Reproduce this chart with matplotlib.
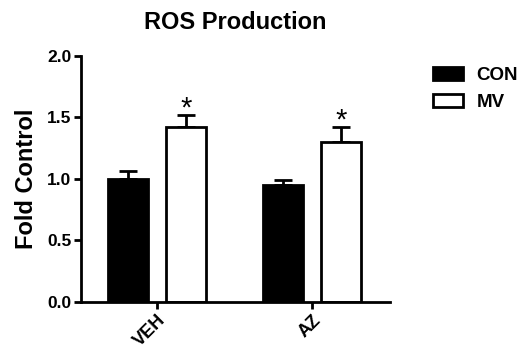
import matplotlib
matplotlib.use("Agg")
import matplotlib.pyplot as plt
from matplotlib.patches import Patch
import numpy as np

plt.rcParams['font.family'] = ['Liberation Sans', 'DejaVu Sans']
plt.rcParams['font.weight'] = 'bold'

groups = ["VEH", "AZ"]
series = ["CON", "MV"]
con_vals = [1.00, 0.95]
con_err = [0.06, 0.04]
mv_vals = [1.42, 1.30]
mv_err = [0.10, 0.12]
sig = ["*", "*"]

fig = plt.figure(figsize=(5.22, 3.52), dpi=100)
ax = fig.add_axes([0.155, 0.142, 0.592, 0.700])

x = np.arange(len(groups))
w = 0.26
off = 0.187
lw = 2.0

ax.bar(x - off, con_vals, w, color='black', edgecolor='black', linewidth=lw, zorder=2)
ax.bar(x + off, mv_vals, w, color='white', edgecolor='black', linewidth=lw, zorder=2)
ax.errorbar(x - off, con_vals, yerr=[np.zeros(len(x)), con_err], fmt='none',
            ecolor='black', elinewidth=lw, capsize=6.5, capthick=lw, zorder=1)
ax.errorbar(x + off, mv_vals, yerr=[np.zeros(len(x)), mv_err], fmt='none',
            ecolor='black', elinewidth=lw, capsize=6.5, capthick=lw, zorder=1)
for xi, v, e, s in zip(x + off, mv_vals, mv_err, sig):
    ax.text(xi, v + e - 0.06, s, ha='center', va='bottom', fontsize=21, fontweight='normal')

ax.set_xlim(-0.49, 1.503)
ax.set_ylim(0, 2.0)
ax.set_yticks([0, 0.5, 1.0, 1.5, 2.0])
ax.set_yticklabels(["0.0", "0.5", "1.0", "1.5", "2.0"], fontsize=12.5, fontweight='bold')
ax.set_xticks(x)
ax.set_xticklabels(groups, rotation=45, ha='right', rotation_mode='anchor', fontsize=13, fontweight='bold')
ax.set_ylabel("Fold Control", fontsize=17, fontweight='bold', labelpad=6)
ax.set_title("ROS Production", fontsize=17, fontweight='bold', pad=19)

for sp in ['top', 'right']:
    ax.spines[sp].set_visible(False)
for sp in ['left', 'bottom']:
    ax.spines[sp].set_linewidth(lw)
ax.tick_params(axis='both', width=lw, length=5, direction='out', pad=2)

handles = [Patch(facecolor='black', edgecolor='black', linewidth=lw, label='CON'),
           Patch(facecolor='white', edgecolor='black', linewidth=lw, label='MV')]
leg = fig.legend(handles=handles, loc='upper left', bbox_to_anchor=(0.8295, 0.810),
                 frameon=False, prop={'size': 13.5, 'weight': 'bold'},
                 borderpad=0, borderaxespad=0,
                 handlelength=1.6, handleheight=0.7, labelspacing=0.55, handletextpad=0.72)

fig.savefig("out.png", dpi=100)
